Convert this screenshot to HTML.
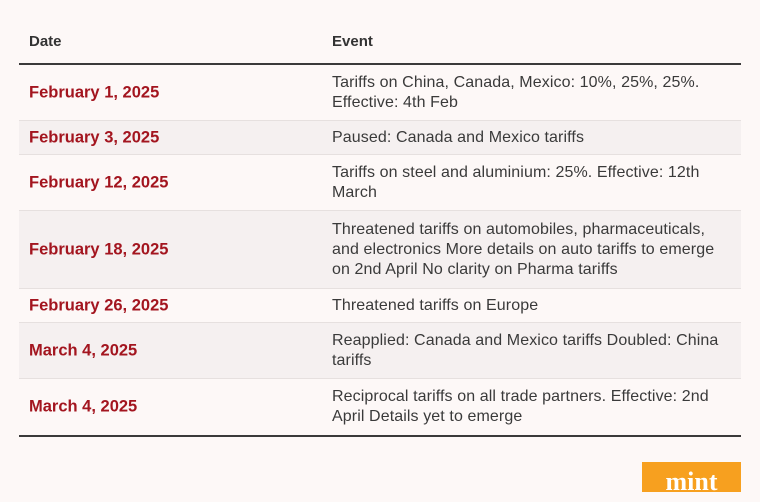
<!DOCTYPE html>
<html><head><style>
body{margin:0;width:760px;height:490px;background:#fdf8f7;font-family:"Liberation Sans",sans-serif;position:relative;overflow:hidden}
.h{position:absolute;top:33px;font-weight:bold;font-size:15px;color:#333}
.line{position:absolute;left:19px;width:722px;background:#3a3a3a}
.row{position:absolute;left:19px;width:722px;border-bottom:1px solid #e6e0df;box-sizing:border-box}
.row.s{background:#f5f0f0}
.d{position:absolute;left:10px;font-weight:bold;font-size:16.5px;color:#a3151f;top:50%;transform:translateY(-50%);letter-spacing:0}
.e{position:absolute;left:313px;font-size:16px;line-height:20px;color:#3a3a3a;top:50%;transform:translateY(-50%);width:410px;letter-spacing:0.1px}
.mint{position:absolute;left:642px;top:462px;width:99px;height:30px;background:#f7a01f;color:#fff;font-family:"Liberation Serif",serif;font-weight:bold;font-size:26px;text-align:center;line-height:40px}
</style></head><body>
<div class="h" style="left:29px">Date</div>
<div class="h" style="left:332px">Event</div>
<div class="line" style="top:63px;height:2px"></div>
<div class="row" style="top:65px;height:56px"><div class="d">February 1, 2025</div><div class="e">Tariffs on China, Canada, Mexico: 10%, 25%, 25%.<br>Effective: 4th Feb</div></div>
<div class="row s" style="top:121px;height:34px"><div class="d">February 3, 2025</div><div class="e">Paused: Canada and Mexico tariffs</div></div>
<div class="row" style="top:155px;height:56px"><div class="d">February 12, 2025</div><div class="e">Tariffs on steel and aluminium: 25%. Effective: 12th<br>March</div></div>
<div class="row s" style="top:211px;height:78px"><div class="d">February 18, 2025</div><div class="e">Threatened tariffs on automobiles, pharmaceuticals,<br>and electronics More details on auto tariffs to emerge<br>on 2nd April No clarity on Pharma tariffs</div></div>
<div class="row" style="top:289px;height:34px"><div class="d">February 26, 2025</div><div class="e">Threatened tariffs on Europe</div></div>
<div class="row s" style="top:323px;height:56px"><div class="d">March 4, 2025</div><div class="e">Reapplied: Canada and Mexico tariffs Doubled: China<br>tariffs</div></div>
<div class="row" style="top:379px;height:56px;border:none"><div class="d">March 4, 2025</div><div class="e">Reciprocal tariffs on all trade partners. Effective: 2nd<br>April Details yet to emerge</div></div>
<div class="line" style="top:435px;height:2px"></div>
<div class="mint">mint</div>
</body></html>
